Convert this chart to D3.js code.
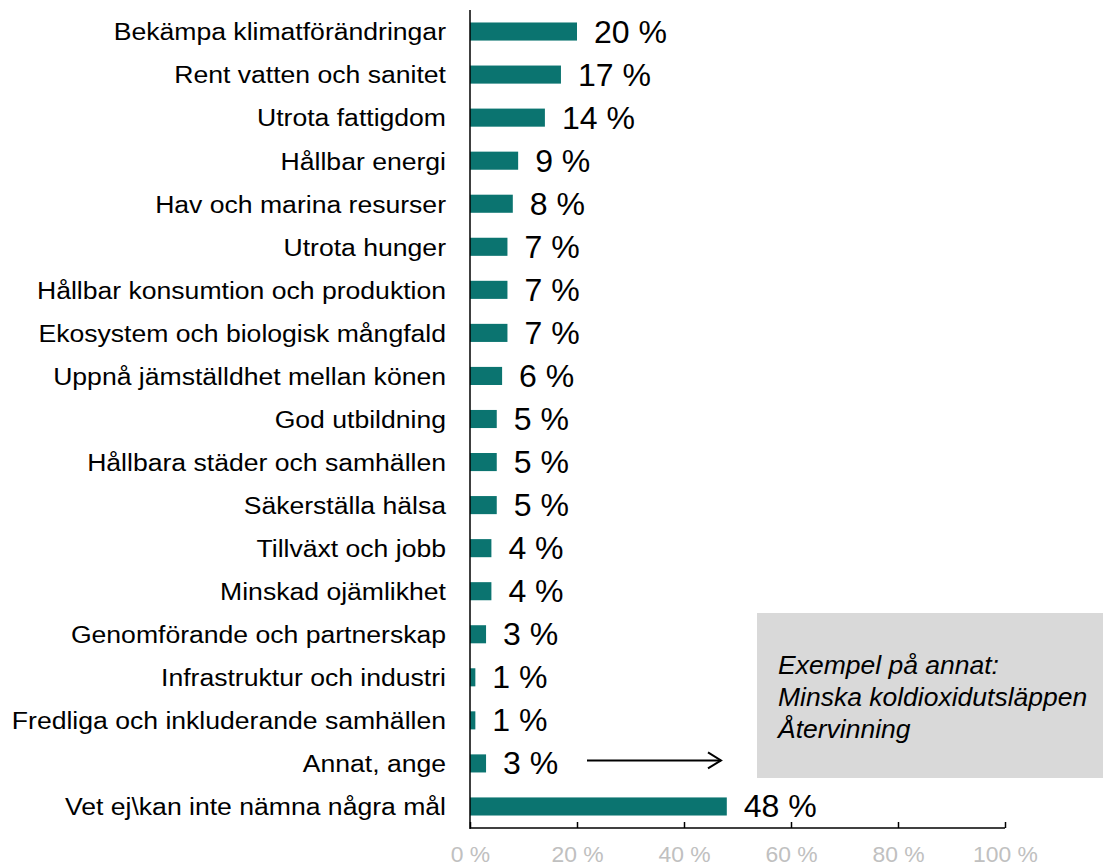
<!DOCTYPE html>
<html><head><meta charset="utf-8">
<script src="https://cdn.jsdelivr.net/npm/d3@7"></script>
<style>body{margin:0;background:#fff}svg{display:block}text{font-family:"Liberation Sans",Arial,sans-serif}</style>
</head><body>
<svg id="c" width="1103" height="867"></svg>
<script>
const categories = ["Bekämpa klimatförändringar","Rent vatten och sanitet","Utrota fattigdom","Hållbar energi","Hav och marina resurser","Utrota hunger","Hållbar konsumtion och produktion","Ekosystem och biologisk mångfald","Uppnå jämställdhet mellan könen","God utbildning","Hållbara städer och samhällen","Säkerställa hälsa","Tillväxt och jobb","Minskad ojämlikhet","Genomförande och partnerskap","Infrastruktur och industri","Fredliga och inkluderande samhällen","Annat, ange","Vet ej\\kan inte nämna några mål"];
const values = [20,17,14,9,8,7,7,7,6,5,5,5,4,4,3,1,1,3,48];
const tickValues = [0,20,40,60,80,100];
const noteLines = ["Exempel på annat:","Minska koldioxidutsläppen","Återvinning"];

const svg = d3.select("#c");
const x = d3.scaleLinear().domain([0,100]).range([470,1005]);
const y = d3.scaleBand().domain(categories).range([10,828]).paddingInner(0.58).paddingOuter(0.29);
const color = "#0b7470";

// note box
svg.append("rect").attr("x",757).attr("y",613).attr("width",346).attr("height",165).attr("fill","#d9d9d9");
svg.append("g").selectAll("text").data(noteLines).join("text")
  .attr("transform",(d,i)=>`translate(778,${674+i*32}) scale(1.06,1)`)
  .attr("font-size",25).attr("font-style","italic").attr("fill","#000").text(d=>d);

// bars
svg.append("g").selectAll("rect").data(values).join("rect")
  .attr("x",x(0)).attr("y",(d,i)=>y(categories[i])).attr("width",d=>x(d)-x(0)).attr("height",y.bandwidth()).attr("fill",color);

// value labels
svg.append("g").selectAll("text").data(values).join("text")
  .attr("transform",(d,i)=>`translate(${x(d)+17},${y(categories[i])+y.bandwidth()/2}) scale(1.05,1)`)
  .attr("dy","0.36em").attr("font-size",30.5).attr("fill","#000").text(d=>d+" %");

// category labels
svg.append("g").selectAll("text").data(categories).join("text")
  .attr("transform",d=>`translate(446,${y(d)+y.bandwidth()/2}) scale(1.085,1)`)
  .attr("dy","0.36em").attr("text-anchor","end")
  .attr("font-size",24.5).attr("fill","#000").text(d=>d);

// y axis line
svg.append("line").attr("x1",x(0)).attr("x2",x(0)).attr("y1",10).attr("y2",829).attr("stroke","#000").attr("stroke-width",1.5);

// x axis
const xa = svg.append("g").attr("transform","translate(0,828)")
  .call(d3.axisBottom(x).tickValues(tickValues).tickSize(-6).tickPadding(12).tickFormat(d=>d+" %"));
xa.select(".domain").attr("stroke","#000").attr("stroke-width",1.5).attr("d","M"+x(0)+",0H"+x(100));
xa.selectAll(".tick line").attr("stroke","#000").attr("stroke-width",1.5);
xa.selectAll(".tick text").attr("font-size",22).attr("fill","#c0c0c0")
  .attr("font-family","Liberation Sans, Arial, sans-serif").attr("y",0).attr("dy",0)
  .attr("transform","translate(0,34) scale(1.04,1)");

// arrow
const ay = y(categories[17]) + y.bandwidth()/2 - 3;
svg.append("line").attr("x1",587).attr("x2",721).attr("y1",ay).attr("y2",ay).attr("stroke","#000").attr("stroke-width",2);
svg.append("path").attr("d",`M${708},${ay-8}L${721},${ay}L${708},${ay+8}`).attr("fill","none").attr("stroke","#000").attr("stroke-width",2);
</script>
</body></html>
